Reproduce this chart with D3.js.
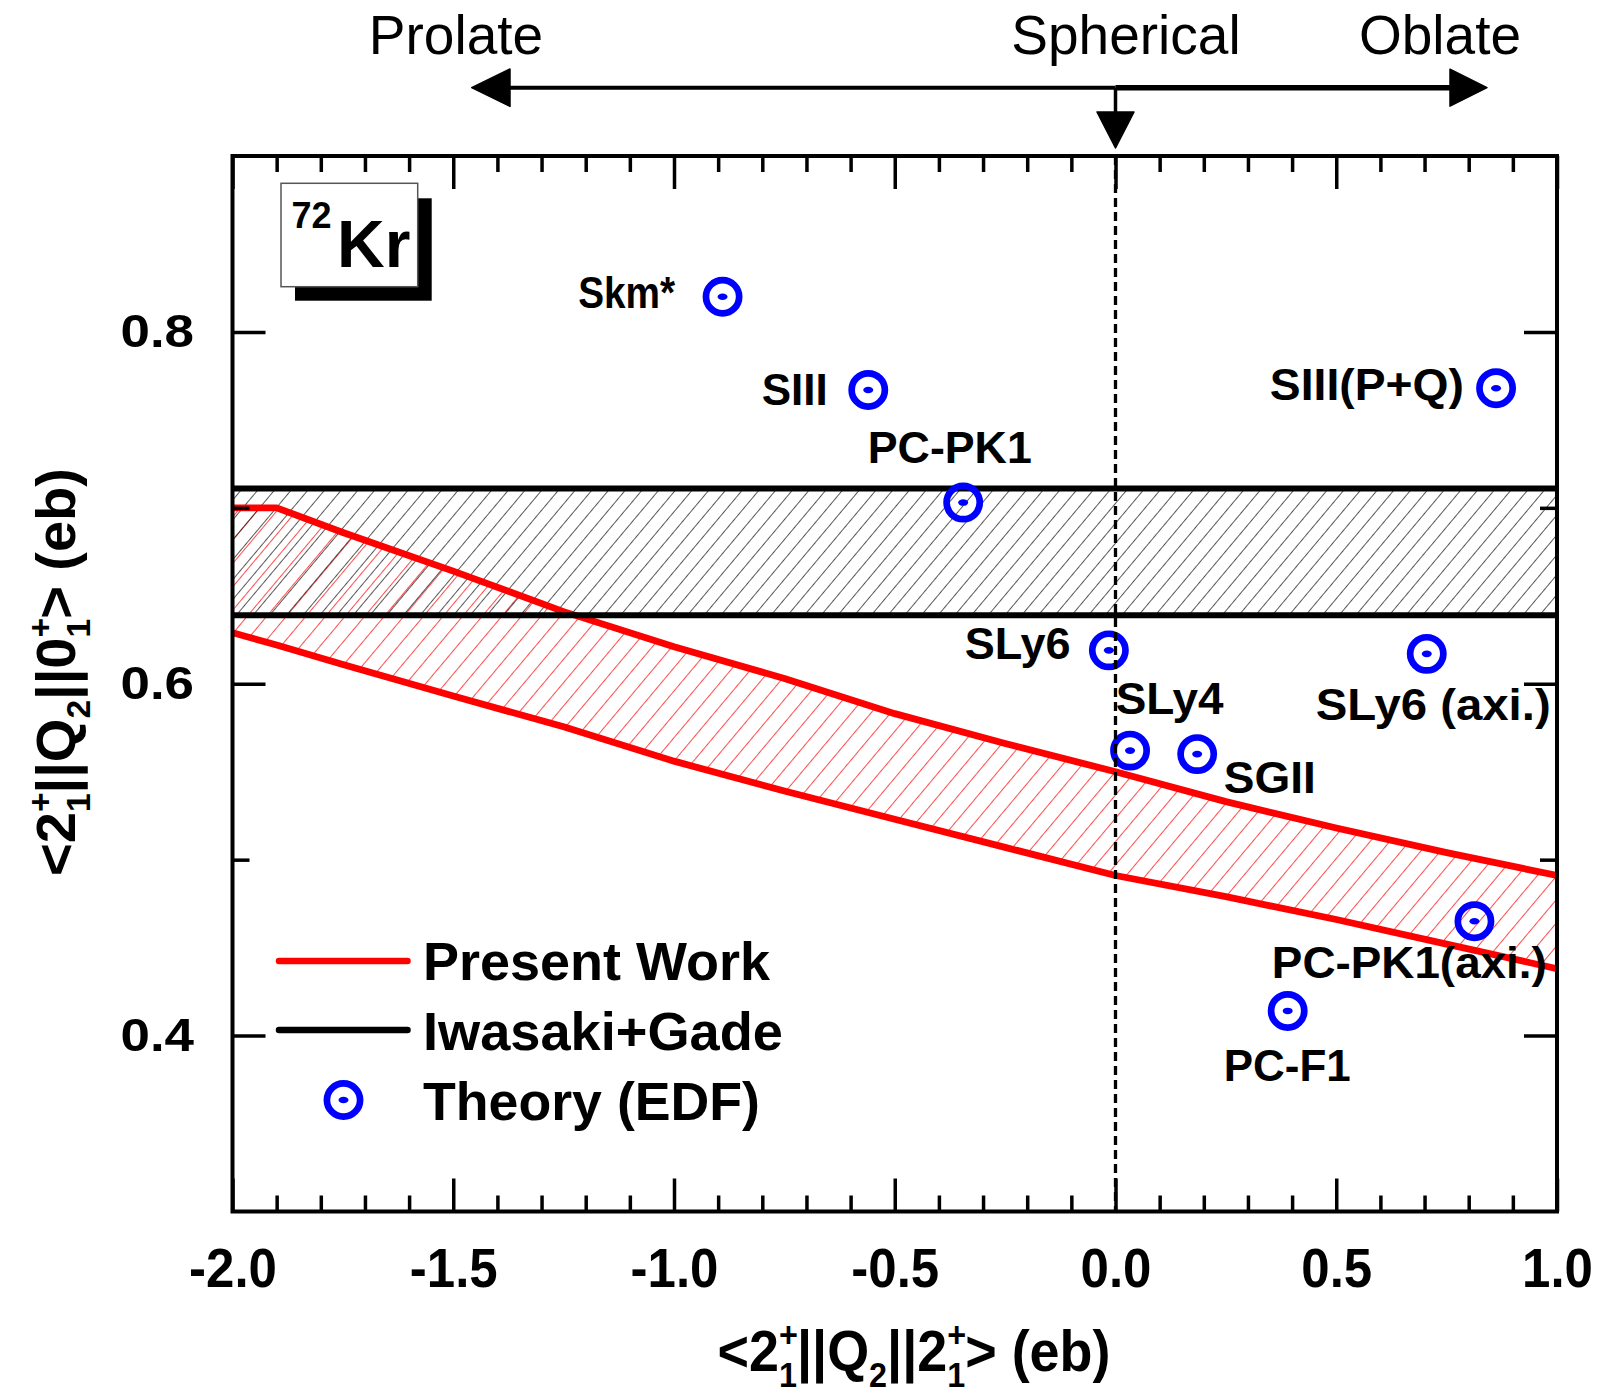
<!DOCTYPE html>
<html>
<head>
<meta charset="utf-8">
<script src="https://cdn.jsdelivr.net/npm/d3@7"></script>
<style>
  body { margin: 0; background: #fff; }
  svg { display: block; }
  text { font-family: "Liberation Sans", Arial, Helvetica, sans-serif; fill: #000; }
</style>
</head>
<body>
<svg id="chart" width="1599" height="1399"></svg>
<script>
// ---- data ----
// Present work: band of allowed <2+||Q2||0+> vs <2+||Q2||2+>
const presentQ22 = [-2.0, -1.9, -1.75, -1.5, -1.25, -1.0, -0.75, -0.5, -0.25, 0.0, 0.25, 0.5, 0.75, 1.0];
const presentUpper = [0.700, 0.700, 0.686, 0.664, 0.641, 0.621, 0.603, 0.583, 0.566, 0.550, 0.533, 0.518, 0.504, 0.491];
const presentLower = [0.629, 0.622, 0.611, 0.593, 0.5755, 0.556, 0.539, 0.523, 0.507, 0.491, 0.479, 0.466, 0.452, 0.438];

// Iwasaki + Gade transition matrix element band
const iwasakiLow = 0.639;
const iwasakiHigh = 0.711;

// EDF theory predictions
const modelNames = ["Skm*", "SIII", "PC-PK1", "SLy6", "SLy4", "SGII", "SLy6 (axi.)", "SIII(P+Q)", "PC-PK1(axi.)", "PC-F1"];
const modelQ22 = [-0.89, -0.56, -0.345, -0.015, 0.033, 0.185, 0.705, 0.862, 0.813, 0.39];
const modelQ20 = [0.820, 0.767, 0.703, 0.619, 0.562, 0.560, 0.617, 0.768, 0.465, 0.414];

// axes
const xDomain = [-2.0, 1.0];
const yDomain = [0.3, 0.9];
const xMajorTicks = [-2.0, -1.5, -1.0, -0.5, 0.0, 0.5, 1.0];
const xTickLabels = ["-2.0", "-1.5", "-1.0", "-0.5", "0.0", "0.5", "1.0"];
const yMajorTicks = [0.4, 0.6, 0.8];
const yTickLabels = ["0.4", "0.6", "0.8"];
const yMinorTicks = [0.5, 0.7];
const shapeLabels = ["Prolate", "Spherical", "Oblate"];
const legendLabels = ["Present Work", "Iwasaki+Gade", "Theory (EDF)"];

// ---- layout ----
const M = { left: 232.5, right: 1557, top: 156, bottom: 1211.5 };
const red = "#ff0000", blue = "#0000ff";

// label placement relative to each marker: [dx of text start, dy of baseline, text width]
const labelPlacement = {
  "Skm*": [-144.4, 11, 97],
  "SIII": [-106.5, 15, 66],
  "PC-PK1": [-95.4, -40, 164],
  "SLy6": [-144.2, 9, 106],
  "SLy4": [-14.4, -37, 108],
  "SGII": [26.6, 39, 92],
  "SLy6 (axi.)": [-111.1, 66, 235],
  "SIII(P+Q)": [-226.2, 12, 194],
  "PC-PK1(axi.)": [-202.6, 57, 275],
  "PC-F1": [-63.9, 70, 127]
};
const legendWidths = [347, 360, 337];

const svg = d3.select("#chart");
const x = d3.scaleLinear().domain(xDomain).range([M.left, M.right]);
const y = d3.scaleLinear().domain(yDomain).range([M.bottom, M.top]);

const defs = svg.append("defs");
defs.append("clipPath").attr("id", "plotClip")
  .append("rect").attr("x", M.left).attr("y", M.top)
  .attr("width", M.right - M.left).attr("height", M.bottom - M.top);

function hatch(id, color, spacing, width) {
  const p = defs.append("pattern").attr("id", id)
    .attr("patternUnits", "userSpaceOnUse")
    .attr("width", spacing).attr("height", spacing)
    .attr("patternTransform", "rotate(40)");
  p.append("line").attr("x1", 0).attr("y1", -1).attr("x2", 0).attr("y2", spacing + 1)
    .attr("stroke", color).attr("stroke-width", width);
}
hatch("redHatch", red, 15, 1.4);
hatch("blackHatch", "#000", 12.8, 1.3);

const plot = svg.append("g").attr("clip-path", "url(#plotClip)");

// present-work band fill
const bandRows = presentQ22.map((q, i) => ({ q, hi: presentUpper[i], lo: presentLower[i] }));
plot.append("path").datum(bandRows)
  .attr("d", d3.area().x(d => x(d.q)).y0(d => y(d.lo)).y1(d => y(d.hi)))
  .attr("fill", "url(#redHatch)");

// Iwasaki+Gade band fill
plot.append("rect")
  .attr("x", M.left).attr("width", M.right - M.left)
  .attr("y", y(iwasakiHigh)).attr("height", y(iwasakiLow) - y(iwasakiHigh))
  .attr("fill", "url(#blackHatch)");

// present-work boundary lines
const line = d3.line().x(d => x(d[0])).y(d => y(d[1]));
[presentUpper, presentLower].forEach(arr => {
  plot.append("path").datum(presentQ22.map((q, i) => [q, arr[i]]))
    .attr("d", line).attr("fill", "none").attr("stroke", red)
    .attr("stroke-width", 6.8).attr("stroke-linejoin", "round");
});

// Iwasaki+Gade boundary lines
[iwasakiHigh, iwasakiLow].forEach(v => {
  plot.append("line").attr("x1", M.left).attr("x2", M.right)
    .attr("y1", y(v)).attr("y2", y(v))
    .attr("stroke", "#000").attr("stroke-width", 6);
});

// theory markers
function marker(g, cx, cy) {
  g.append("circle").attr("cx", cx).attr("cy", cy).attr("r", 16.6)
    .attr("fill", "none").attr("stroke", blue).attr("stroke-width", 6.7);
  g.append("ellipse").attr("cx", cx).attr("cy", cy).attr("rx", 5).attr("ry", 3.3)
    .attr("fill", blue);
}
const markers = svg.append("g");
modelNames.forEach((n, i) => marker(markers, x(modelQ22[i]), y(modelQ20[i])));

// labels for theory points
const labels = svg.append("g").attr("font-size", 44).attr("font-weight", "bold");
modelNames.forEach((n, i) => {
  const [dx, dy, w] = labelPlacement[n];
  labels.append("text").attr("x", x(modelQ22[i]) + dx).attr("y", y(modelQ20[i]) + dy)
    .attr("textLength", w).attr("lengthAdjust", "spacingAndGlyphs").text(n);
});

// spherical reference line
svg.append("line").attr("x1", x(0)).attr("x2", x(0)).attr("y1", M.top).attr("y2", M.bottom)
  .attr("stroke", "#000").attr("stroke-width", 3.3).attr("stroke-dasharray", "9,5");

// ---- axes ----
const xMinorTicks = d3.range(-20, 11).map(v => v / 10).filter(v => Math.abs(v * 2 - Math.round(v * 2)) > 1e-6);
function styleAxis(g) {
  g.select(".domain").remove();
  g.selectAll(".tick line").attr("stroke", "#000").attr("stroke-width", 3.5);
}
// bottom
svg.append("g").attr("transform", `translate(0,${M.bottom})`)
  .call(d3.axisBottom(x).tickValues(xMinorTicks).tickSize(-16).tickSizeOuter(0).tickFormat(""))
  .call(styleAxis);
const xAxisG = svg.append("g").attr("transform", `translate(0,${M.bottom})`)
  .call(d3.axisBottom(x).tickValues(xMajorTicks).tickSize(-33).tickSizeOuter(0)
    .tickFormat((d, i) => xTickLabels[i]))
  .call(styleAxis);
xAxisG.selectAll(".tick text")
  .attr("font-family", null).attr("font-size", null)
  .attr("dy", null).attr("y", 0)
  .attr("transform", "translate(0,75.5) scale(0.91,1)")
  .style("font-size", "56px").style("font-weight", "bold").attr("fill", "#000");
// top
svg.append("g").attr("transform", `translate(0,${M.top})`)
  .call(d3.axisTop(x).tickValues(xMinorTicks).tickSize(-16).tickSizeOuter(0).tickFormat(""))
  .call(styleAxis);
svg.append("g").attr("transform", `translate(0,${M.top})`)
  .call(d3.axisTop(x).tickValues(xMajorTicks).tickSize(-33).tickSizeOuter(0).tickFormat(""))
  .call(styleAxis);
// left
svg.append("g").attr("transform", `translate(${M.left},0)`)
  .call(d3.axisLeft(y).tickValues(yMinorTicks).tickSize(-17).tickSizeOuter(0).tickFormat(""))
  .call(styleAxis);
const yAxisG = svg.append("g").attr("transform", `translate(${M.left},0)`)
  .call(d3.axisLeft(y).tickValues(yMajorTicks).tickSize(-33).tickSizeOuter(0)
    .tickFormat((d, i) => yTickLabels[i]))
  .call(styleAxis);
yAxisG.selectAll(".tick text")
  .attr("font-family", null).attr("font-size", null)
  .attr("dy", null).attr("x", 0).attr("y", 0)
  .attr("transform", "translate(-38.5,15) scale(1.15,1)")
  .attr("text-anchor", "end")
  .style("font-size", "46px").style("font-weight", "bold").attr("fill", "#000");
// right
svg.append("g").attr("transform", `translate(${M.right},0)`)
  .call(d3.axisRight(y).tickValues(yMinorTicks).tickSize(-17).tickSizeOuter(0).tickFormat(""))
  .call(styleAxis);
svg.append("g").attr("transform", `translate(${M.right},0)`)
  .call(d3.axisRight(y).tickValues(yMajorTicks).tickSize(-33).tickSizeOuter(0).tickFormat(""))
  .call(styleAxis);

// frame
svg.append("rect").attr("x", M.left).attr("y", M.top)
  .attr("width", M.right - M.left).attr("height", M.bottom - M.top)
  .attr("fill", "none").attr("stroke", "#000").attr("stroke-width", 4);

// ---- axis titles: <2+1||Q2||J+1> (eb) ----
function braket(g, fs, finalState) {
  const t = g.append("text").attr("text-anchor", "middle")
    .attr("font-weight", "bold").attr("font-size", fs);
  const s = fs * 0.6;
  const up = fs * 0.42, down = fs * 0.28;
  const add = (txt, opts = {}) => {
    const ts = t.append("tspan").text(txt);
    if (opts.size) ts.attr("font-size", opts.size);
    if (opts.dx) ts.attr("dx", opts.dx);
    if (opts.dy) ts.attr("dy", opts.dy);
  };
  add("<2");
  add("+", { size: s, dy: -up });
  add("1", { size: s, dx: -0.584 * s, dy: up + down });
  add("||Q", { dy: -down });
  add("2", { size: s, dy: down });
  add("||" + finalState, { dy: -down });
  add("+", { size: s, dy: -up });
  add("1", { size: s, dx: -0.584 * s, dy: up + down });
  add("> (eb)", { dy: -down });
  return t;
}
function fitted(g, t, target) {
  const w = t.node().getBBox().width;
  t.attr("transform", `scale(${target / w},1)`);
}
const xTitleG = svg.append("g").attr("transform", "translate(914,1371)");
fitted(xTitleG, braket(xTitleG, 57, "2"), 393);
const yTitleG = svg.append("g").attr("transform", "translate(75,672) rotate(-90)");
fitted(yTitleG, braket(yTitleG, 55, "0"), 408);

// ---- nucleus tag ----
svg.append("rect").attr("x", 295).attr("y", 198.3).attr("width", 136.7).attr("height", 102.4).attr("fill", "#000");
svg.append("rect").attr("x", 281).attr("y", 183.3).attr("width", 136.7).attr("height", 103.4)
  .attr("fill", "#fff").attr("stroke", "#555").attr("stroke-width", 1.5);
svg.append("text").attr("x", 291.5).attr("y", 228.3).attr("font-size", 36).attr("font-weight", "bold").text("72");
svg.append("text").attr("x", 337).attr("y", 266.7).attr("font-size", 66).attr("font-weight", "bold").text("Kr");

// ---- deformation arrows ----
const arrowY = 87.7;
const arrows = svg.append("g");
arrows.append("line").attr("x1", 505).attr("x2", x(0)).attr("y1", arrowY).attr("y2", arrowY)
  .attr("stroke", "#000").attr("stroke-width", 4);
arrows.append("line").attr("x1", x(0)).attr("x2", 1455).attr("y1", arrowY).attr("y2", arrowY)
  .attr("stroke", "#000").attr("stroke-width", 5.5);
arrows.append("polygon").attr("points", `471.7,${arrowY} 510,${arrowY - 18.7} 510,${arrowY + 18.7}`)
  .attr("fill", "#000").attr("stroke", "#000").attr("stroke-width", 1.5).attr("stroke-linejoin", "round");
arrows.append("polygon").attr("points", `1487,${arrowY} 1450,${arrowY - 18.5} 1450,${arrowY + 18.5}`)
  .attr("fill", "#000").attr("stroke", "#000").attr("stroke-width", 1.5).attr("stroke-linejoin", "round");
arrows.append("line").attr("x1", x(0)).attr("x2", x(0)).attr("y1", arrowY).attr("y2", 113)
  .attr("stroke", "#000").attr("stroke-width", 3.5);
arrows.append("polygon").attr("points", `${x(0) - 18.5},112 ${x(0) + 18.5},112 ${x(0)},148`)
  .attr("fill", "#000").attr("stroke", "#000").attr("stroke-width", 1.5).attr("stroke-linejoin", "round");
const shapeX = [456, 1126, 1440];
shapeLabels.forEach((s, i) => {
  arrows.append("text").attr("x", shapeX[i]).attr("y", 54).attr("text-anchor", "middle")
    .attr("font-size", 55).text(s);
});

// ---- legend ----
const lg = svg.append("g");
lg.append("line").attr("x1", 279).attr("x2", 407.5).attr("y1", 961).attr("y2", 961)
  .attr("stroke", red).attr("stroke-width", 6.5).attr("stroke-linecap", "round");
lg.append("line").attr("x1", 279).attr("x2", 407.5).attr("y1", 1030).attr("y2", 1030)
  .attr("stroke", "#000").attr("stroke-width", 6.5).attr("stroke-linecap", "round");
marker(lg, 343.5, 1100);
const legendY = [980, 1050, 1120];
legendLabels.forEach((l, i) => {
  lg.append("text").attr("x", 423).attr("y", legendY[i]).attr("font-size", 53)
    .attr("font-weight", "bold")
    .attr("textLength", legendWidths[i]).attr("lengthAdjust", "spacingAndGlyphs").text(l);
});
</script>
</body>
</html>
